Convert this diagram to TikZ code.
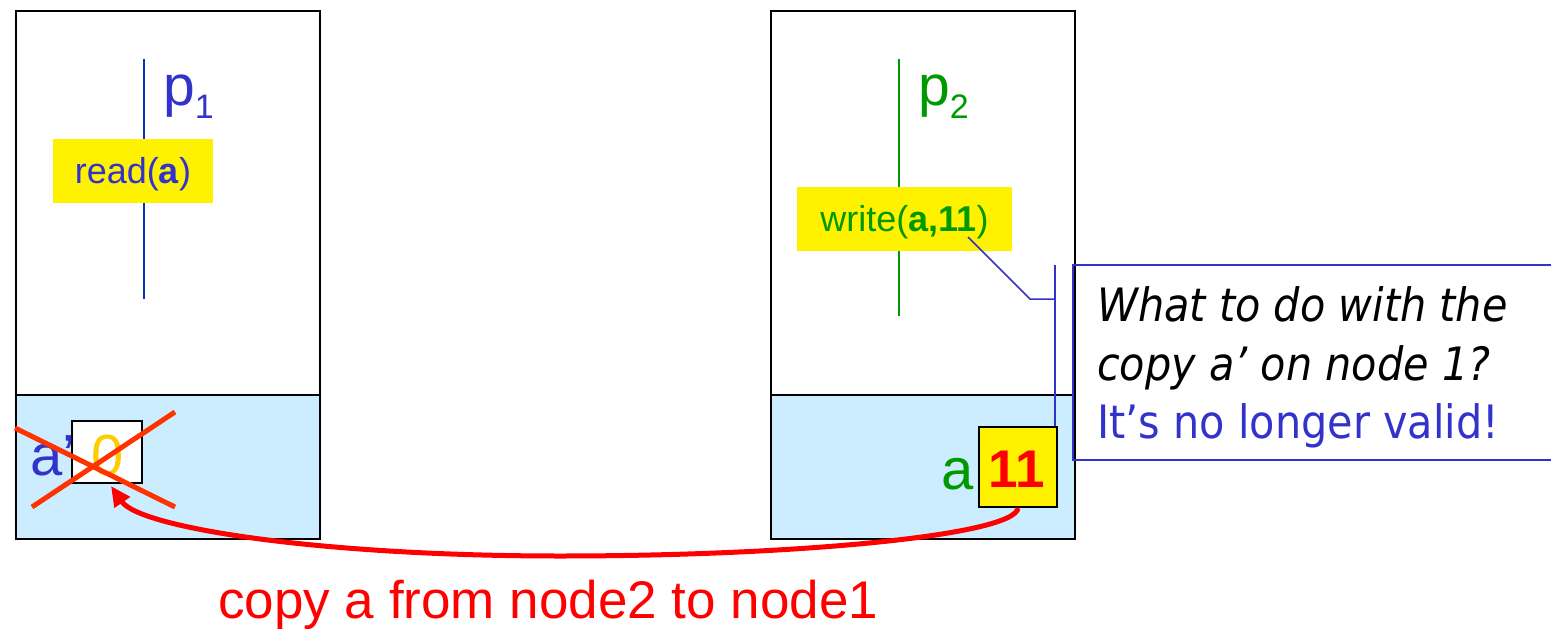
\documentclass[tikz,border=0pt]{standalone}
\usepackage{fontspec}
\setmainfont{Liberation Sans}
\newfontfamily\dvfont[FakeStretch=0.9]{DejaVu Sans}
\usetikzlibrary{arrows.meta}
\definecolor{tblue}{HTML}{3333CC}
\definecolor{lblue}{HTML}{0033CC}
\definecolor{tgreen}{HTML}{009900}
\definecolor{memblue}{HTML}{CCECFF}
\definecolor{zeroyel}{HTML}{FFCC00}
\definecolor{xred}{HTML}{FF3300}
\newcommand{\setfs}[1]{\fontsize{#1}{#1}\selectfont}
\tikzset{
  hostbox/.style={draw=black, line width=2pt, inner sep=0pt},
  membox/.style={draw=black, line width=2pt, fill=memblue, inner sep=0pt},
  opbox/.style={fill=yellow, inner sep=0pt},
  cellbox/.style={draw=black, line width=2pt, inner sep=0pt},
  txt/.style={inner sep=0pt, anchor=base west},
  ctxt/.style={inner sep=0pt, anchor=base},
  crossline/.style={xred, line width=5pt},
  calloutline/.style={tblue, line width=2pt},
  copyarrow/.style={red, line width=5pt, -{Triangle[length=20pt,width=18pt]}},
}
\begin{document}
\begin{tikzpicture}[x=1pt,y=-1pt]
\useasboundingbox (0,0) rectangle (1551,629);

% host nodes
\node[membox, minimum width=304pt, minimum height=144pt] (mem1) at (168,467) {};
\node[hostbox, minimum width=304pt, minimum height=528pt] (host1) at (168,275) {};
\node[membox, minimum width=304pt, minimum height=144pt] (mem2) at (923,467) {};
\node[hostbox, minimum width=304pt, minimum height=528pt] (host2) at (923,275) {};

% process lines
\coordinate (l1top) at (144,59);
\coordinate (l1bot) at (144,299);
\draw[lblue, line width=2.5pt] (l1top) -- (l1bot);
\coordinate (l2top) at (899,59);
\coordinate (l2bot) at (899,316);
\draw[tgreen, line width=2.5pt] (l2top) -- (l2bot);

\node[txt, text=tblue] (p1) at (163,105) {\setfs{57}p\raisebox{-13pt}{\setfs{34}1}};
\node[txt, text=tgreen] (p2) at (918,105) {\setfs{57}p\raisebox{-13pt}{\setfs{34}2}};

% operations
\node[opbox, minimum width=160pt, minimum height=64pt] (rd) at (133,171) {};
\node[ctxt, text=tblue] (rdtxt) at (133,183) {\setfs{36}read(\textbf{a})};
\node[opbox, minimum width=215pt, minimum height=64pt] (wr) at (904.5,219) {};
\node[ctxt, text=tgreen] (wrtxt) at (904.5,231) {\setfs{36}write(\textbf{a,11})};

% memory cells
\node[cellbox, fill=white, minimum width=70pt, minimum height=62pt] (c0) at (107,452) {};
\node[ctxt, text=zeroyel] (zero) at (108,475) {\setfs{58}0};
\node[txt, text=tblue] (aprime) at (30,475) {\setfs{58}a’};

\node[cellbox, fill=yellow, minimum width=78pt, minimum height=80pt] (c11) at (1018,467) {};
\node[ctxt, text=red] (eleven) at (1017,487) {\setfs{53}\textbf{11}};
\node[inner sep=0pt, anchor=base east, text=tgreen] (agreen) at (974,489) {\setfs{58}a};

% cross
\coordinate (x1a) at (15,428);
\coordinate (x1b) at (175,507);
\coordinate (x2a) at (32,507);
\coordinate (x2b) at (175,412);
\draw[crossline] (x1a) -- (x1b);
\draw[crossline] (x2a) -- (x2b);

% copy arrow
\coordinate (tip) at (111,486);
\draw[copyarrow] (c11.south) .. controls (1015,535) and (800,556) .. (560,556)
  .. controls (320,556) and (140,528) .. (tip);
\node[txt, text=red] (cap) at (218,618) {\setfs{53}copy a from node2 to node1};

% callout
\node[inner sep=0pt, minimum width=478pt, minimum height=195pt] (call) at (1312,362.5) {};
\draw[calloutline] (call.north east) -- (call.north west) -- (call.south west) -- (call.south east);
\coordinate (lead) at (968,237);
\coordinate (bend) at (1030,299);
\coordinate (bartop) at (1055,265);
\draw[tblue, line width=1.5pt] (lead) -- (bend) -- (bend -| bartop);
\draw[calloutline] (bartop) -- (bartop |- c11.north);
\node[txt] (q1) at (1097,321) {\dvfont\itshape\setfs{46}What to do with the};
\node[txt] (q2) at (1097,380) {\dvfont\itshape\setfs{46}copy a’ on node 1?};
\node[txt, text=tblue] (q3) at (1097,438) {\dvfont\setfs{46}It’s no longer valid!};
\end{tikzpicture}
\end{document}
